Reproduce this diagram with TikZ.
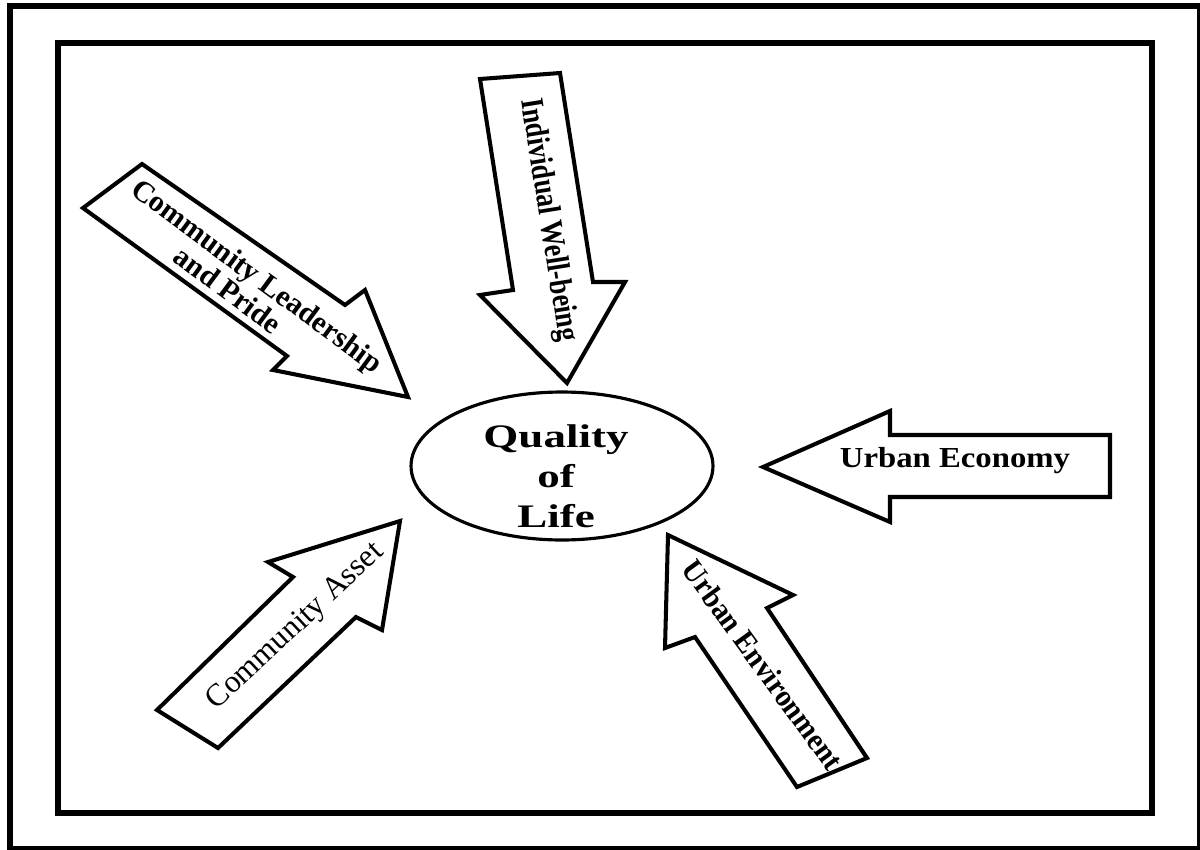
\documentclass[tikz,border=0pt]{standalone}
\usepackage{fontspec}
\setmainfont{Liberation Serif}
\usetikzlibrary{shapes.geometric}
\begin{document}
\begin{tikzpicture}[x=0.02cm,y=-0.02cm,
  fatarrow/.style={draw=black,line width=2.3pt,line join=miter,fill=white},
  lbl/.style={inner sep=0pt,align=center,text=black},
  frame/.style={draw=black,line join=miter}]
\useasboundingbox (0,0) rectangle (1200,849);
% frames
\draw[frame,line width=3.2pt] (10,6) rectangle (1199.5,848.5);
\draw[frame,line width=3.6pt] (58,43) rectangle (1152,813);
% centre ellipse
\node[draw=black,line width=1.8pt,ellipse,minimum width=6.04cm,minimum height=2.96cm,inner sep=0pt] (qol) at (562,466) {};
\node[lbl,font=\fontsize{18.7pt}{22.8pt}\selectfont\bfseries,xscale=1.37] (qoltext) at (556,476) {Quality\\of\\Life};
% Individual Well-being (down)
\draw[fatarrow] (480,79) -- (560,73) -- (593,282) -- (625,282) -- (567,383) -- (480,295) -- (513,290) -- cycle;
\node[lbl,font=\fontsize{18.5pt}{18pt}\selectfont\bfseries,rotate=-81,xscale=0.81] (iwb) at (548,220) {Individual Well-being};
% Community Leadership and Pride (down-right)
\draw[fatarrow] (142,164) -- (345,305) -- (365,290) -- (408,397) -- (273,370) -- (287,356) -- (83,208) -- cycle;
\node[lbl,align=left,font=\fontsize{17pt}{16.5pt}\selectfont\bfseries,rotate=-36.5] (clp) at (249,287) {Community Leadership\\\hspace*{2.5em}and Pride};
% Urban Economy (left)
\draw[fatarrow] (763,467) -- (890,411) -- (890,435) -- (1110,435) -- (1110,497) -- (890,497) -- (890,522) -- cycle;
\node[lbl,font=\fontsize{16.5pt}{16pt}\selectfont\bfseries,xscale=1.13] (uec) at (955,461) {Urban Economy};
% Urban Environment (up-left)
\draw[fatarrow] (668,535) -- (793,595) -- (767,608) -- (867,758) -- (797,787) -- (695,637) -- (665,648) -- cycle;
\node[lbl,font=\fontsize{17.5pt}{16pt}\selectfont\bfseries,rotate=-54,xscale=0.94] (uen) at (763,665) {Urban Environment};
% Community Asset (up-right)
\draw[fatarrow] (157,710) -- (218,748) -- (356,617) -- (382,630) -- (400,521) -- (268,562) -- (293,577) -- cycle;
\node[lbl,font=\fontsize{18pt}{16pt}\selectfont,rotate=43] (cas) at (296,627) {Community Asset};
\end{tikzpicture}
\end{document}
